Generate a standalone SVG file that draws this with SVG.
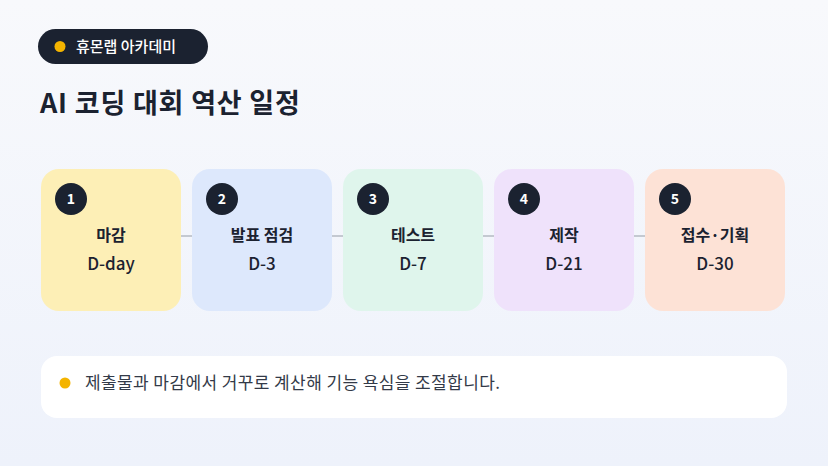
<svg xmlns="http://www.w3.org/2000/svg" width="828" height="466" viewBox="0 0 828 466">
<defs>
<linearGradient id="bg" x1="0" y1="0" x2="0" y2="1">
<stop offset="0" stop-color="#f8f9fc"/>
<stop offset="1" stop-color="#eef2fb"/>
</linearGradient>
<style>
text{font-family:"Noto Sans CJK KR","Noto Sans",sans-serif}
.card{stroke:none}
.badge{fill:#1b2230}
.num{fill:#ffffff;font-size:14px;font-weight:700;text-anchor:middle}
.lbl{fill:#1b2230;font-size:16px;font-weight:700;text-anchor:middle}
.sub{fill:#1b2230;font-size:17px;font-weight:500;text-anchor:middle}
.conn{stroke:#b5bac3;stroke-width:1.5;fill:none}
</style>
</defs>
<rect width="828" height="466" fill="url(#bg)"/>
<g id="header">
<rect x="38" y="29" width="170" height="35" rx="17.5" fill="#1b2230"/>
<circle cx="60" cy="46.5" r="5.5" fill="#f4b400"/>
<text x="76" y="52" fill="#ffffff" font-size="15" font-weight="500">휴몬랩 아카데미</text>
</g>
<text id="title" x="40" y="113" fill="#1b2230" font-size="27" font-weight="700" letter-spacing="0.8">AI 코딩 대회 역산 일정</text>
<g id="connectors">
<line class="conn" x1="181" y1="236" x2="192" y2="236"/>
<line class="conn" x1="332" y1="236" x2="343" y2="236"/>
<line class="conn" x1="483" y1="236" x2="494" y2="236"/>
<line class="conn" x1="634" y1="236" x2="645" y2="236"/>
</g>
<g id="node1">
<rect class="card" x="41" y="169" width="140" height="142" rx="18" fill="#fdefb6"/>
<circle class="badge" cx="71" cy="199" r="16"/>
<text class="num" x="71" y="204">1</text>
<text class="lbl" x="111" y="241">마감</text>
<text class="sub" x="111" y="270">D-day</text>
</g>
<g id="node2">
<rect class="card" x="192" y="169" width="140" height="142" rx="18" fill="#dde8fc"/>
<circle class="badge" cx="222" cy="199" r="16"/>
<text class="num" x="222" y="204">2</text>
<text class="lbl" x="262" y="241">발표 점검</text>
<text class="sub" x="262" y="270">D-3</text>
</g>
<g id="node3">
<rect class="card" x="343" y="169" width="140" height="142" rx="18" fill="#dff5ec"/>
<circle class="badge" cx="373" cy="199" r="16"/>
<text class="num" x="373" y="204">3</text>
<text class="lbl" x="413" y="241">테스트</text>
<text class="sub" x="413" y="270">D-7</text>
</g>
<g id="node4">
<rect class="card" x="494" y="169" width="140" height="142" rx="18" fill="#efe2fb"/>
<circle class="badge" cx="524" cy="199" r="16"/>
<text class="num" x="524" y="204">4</text>
<text class="lbl" x="564" y="241">제작</text>
<text class="sub" x="564" y="270">D-21</text>
</g>
<g id="node5">
<rect class="card" x="645" y="169" width="140" height="142" rx="18" fill="#fde2d6"/>
<circle class="badge" cx="675" cy="199" r="16"/>
<text class="num" x="675" y="204">5</text>
<text class="lbl" x="715" y="241">접수·기획</text>
<text class="sub" x="715" y="270">D-30</text>
</g>
<g id="note">
<rect x="41" y="356" width="746" height="62" rx="16" fill="#ffffff"/>
<circle cx="65" cy="383" r="5.5" fill="#f4b400"/>
<text x="85" y="389" fill="#333a48" font-size="17" letter-spacing="0.4">제출물과 마감에서 거꾸로 계산해 기능 욕심을 조절합니다.</text>
</g>
</svg>
